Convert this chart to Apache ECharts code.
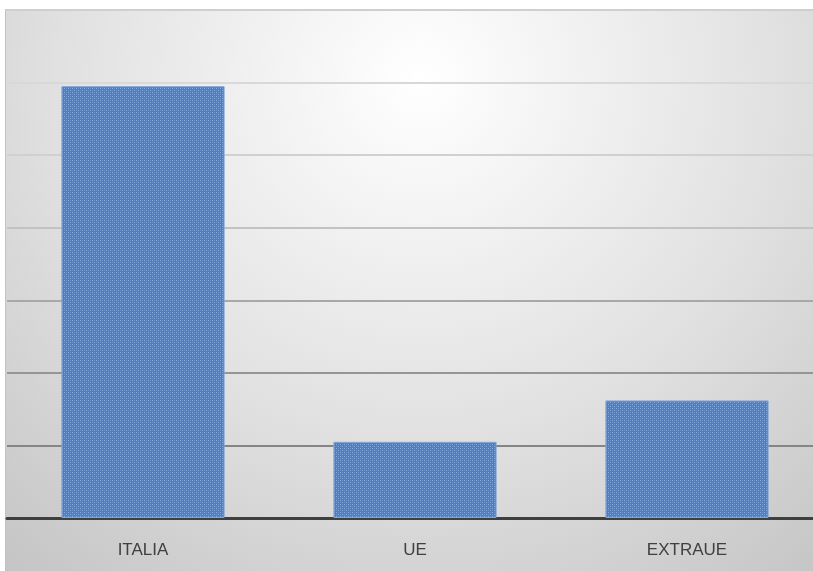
<!DOCTYPE html>
<html>
<head>
<meta charset="utf-8">
<script src="https://cdn.jsdelivr.net/npm/echarts@6/dist/echarts.min.js"></script>
<style>
  html, body { margin: 0; padding: 0; background: #ffffff; overflow: hidden; }
  #chart { width: 823px; height: 571px; }
</style>
</head>
<body>
<div id="chart"></div>
<script>
// Categories and values
var categories = ['ITALIA', 'UE', 'EXTRAUE'];
var values = [59.5, 10.5, 16.2];
var yMax = 70;
var yStep = 10;

// Gridline shades from bottom to top
var gridColors = ['#8a8a8a', '#858585', '#959595', '#a8a8a8', '#c2c2c2', '#d0d0d0', '#d8d8d8', '#cfcfcf'];

// Small dotted tile used as the bar fill
function makeTile() {
  var c = document.createElement('canvas');
  c.width = 4; c.height = 4;
  var ctx = c.getContext('2d');
  ctx.fillStyle = '#4a7fc8';
  ctx.fillRect(0, 0, 4, 4);
  ctx.fillStyle = '#8aaedf';
  ctx.fillRect(0, 0, 1, 1);
  ctx.fillRect(2, 2, 1, 1);
  ctx.fillStyle = '#6894d2';
  ctx.fillRect(2, 0, 1, 1);
  ctx.fillRect(0, 2, 1, 1);
  return c;
}

var chart = echarts.init(document.getElementById('chart'), null, { renderer: 'canvas' });

var option = {
  animation: false,
  backgroundColor: '#ffffff',
  graphic: [{
    type: 'rect',
    z: -10,
    silent: true,
    shape: { x: 5.5, y: 9.5, width: 830, height: 580 },
    style: {
      fill: {
        type: 'radial', x: 0.5, y: 0.12, r: 1.15,
        colorStops: [
          { offset: 0, color: '#ffffff' },
          { offset: 0.55, color: '#e0e0e0' },
          { offset: 1, color: '#c2c2c2' }
        ]
      },
      stroke: '#c2c2c2',
      lineWidth: 1
    }
  }],
  grid: { left: 7, right: 0, top: 10, bottom: 53, containLabel: false },
  xAxis: {
    type: 'category',
    data: categories,
    axisLine: { show: true, lineStyle: { color: '#3f3f3f', width: 3 } },
    axisTick: { show: false },
    axisLabel: {
      color: '#404040',
      fontFamily: 'Liberation Sans Narrow, Liberation Sans, sans-serif',
      fontSize: 17,
      margin: 24
    },
    splitLine: { show: false }
  },
  yAxis: {
    type: 'value',
    min: 0,
    max: yMax,
    interval: yStep,
    axisLine: { show: false },
    axisTick: { show: false },
    axisLabel: { show: false },
    splitLine: { show: true, lineStyle: { color: gridColors, width: 2 } }
  },
  series: [{
    type: 'bar',
    data: values,
    barWidth: '60%',
    itemStyle: {
      color: { image: makeTile(), repeat: 'repeat' },
      borderColor: '#7fa5d8',
      borderWidth: 1
    }
  }]
};

chart.setOption(option);
</script>
</body>
</html>
